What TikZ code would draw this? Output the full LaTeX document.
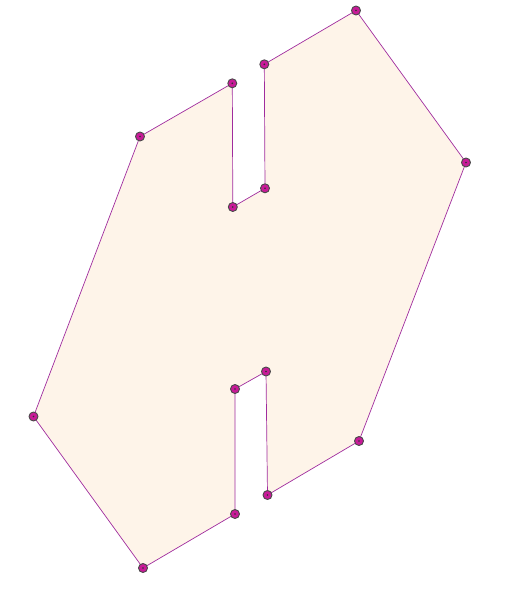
\documentclass[tikz,border=0pt]{standalone}
\usepackage{tikz}
\usetikzlibrary{backgrounds}
\definecolor{shpfill}{HTML}{FEF4E9}
\definecolor{shpline}{HTML}{A02C9E}
\definecolor{vtxfill}{HTML}{C81A98}
\definecolor{vtxring}{HTML}{4A4A4A}

\begin{document}
\begin{tikzpicture}[
  x=1pt, y=-1pt,
  vtx/.style={circle, draw=vtxring, line width=0.9pt, fill=vtxfill, minimum size=9pt, inner sep=0pt,
              path picture={\fill[black!80] (path picture bounding box.center) circle (0.9pt);}},
  edge/.style={draw=shpline, line width=0.7pt, fill=shpfill, line join=miter}
]
\useasboundingbox (0,0) rectangle (530,600);

% ── Vertices ──────────────────────────────────────────────────
\coordinate (v1) at (356,10.5);
\coordinate (v2) at (466,162.5);
\coordinate (v3) at (359,441);
\coordinate (v4) at (267.5,495);
\coordinate (v5) at (266,371.5);
\coordinate (v6) at (235,389);
\coordinate (v7) at (235,514);
\coordinate (v8) at (143,568);
\coordinate (v9) at (33.5,416.5);
\coordinate (v10) at (140,136.5);
\coordinate (v11) at (232.3,83.3);
\coordinate (v12) at (232.8,207);
\coordinate (v13) at (265,188.3);
\coordinate (v14) at (264.3,64.3);

% ── Outline ───────────────────────────────────────────────────
\path[edge] (v1) -- (v2) -- (v3) -- (v4) -- (v5) -- (v6) -- (v7)
  -- (v8) -- (v9) -- (v10) -- (v11) -- (v12) -- (v13) -- (v14) -- cycle;

% ── Markers ───────────────────────────────────────────────────
\foreach \i in {1,...,14}
  \node[vtx] (m\i) at (v\i) {};
\end{tikzpicture}
\end{document}
